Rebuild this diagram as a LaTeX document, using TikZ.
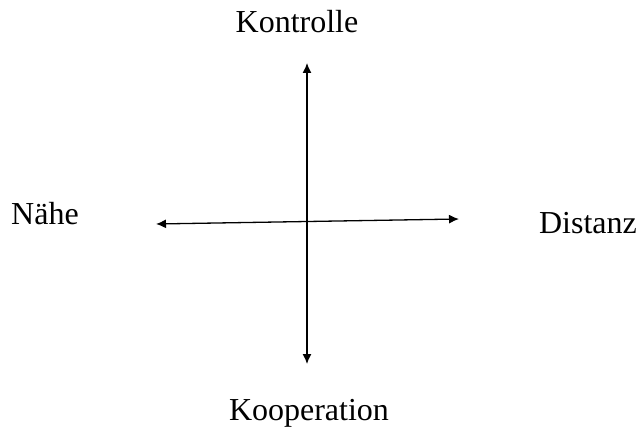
\documentclass[tikz,border=0pt]{standalone}
\usepackage{fontspec}
\setmainfont{Liberation Serif}
\usetikzlibrary{arrows.meta}
\begin{document}
\begin{tikzpicture}[x=1pt,y=1pt,
  lbl/.style={font=\fontsize{32}{38}\selectfont, inner sep=0pt, anchor=base},
  axis/.style={line width=1.3pt, {Latex[length=10pt,width=9pt]}-{Latex[length=10pt,width=9pt]}}]
\useasboundingbox (0,0) rectangle (642,434);
\node[lbl] (kon) at (297,401) {Kontrolle};
\node[lbl] (koo) at (309,14) {Kooperation};
\node[lbl] (nah) at (45,209) {Nähe};
\node[lbl] (dis) at (588,200) {Distanz};
\coordinate (top) at (307,371);
\coordinate (bot) at (307,70);
\coordinate (lft) at (156,210);
\coordinate (rgt) at (459,215);
\draw[axis] (bot) -- (top);
\draw[axis] (lft) -- (rgt);
\end{tikzpicture}
\end{document}
